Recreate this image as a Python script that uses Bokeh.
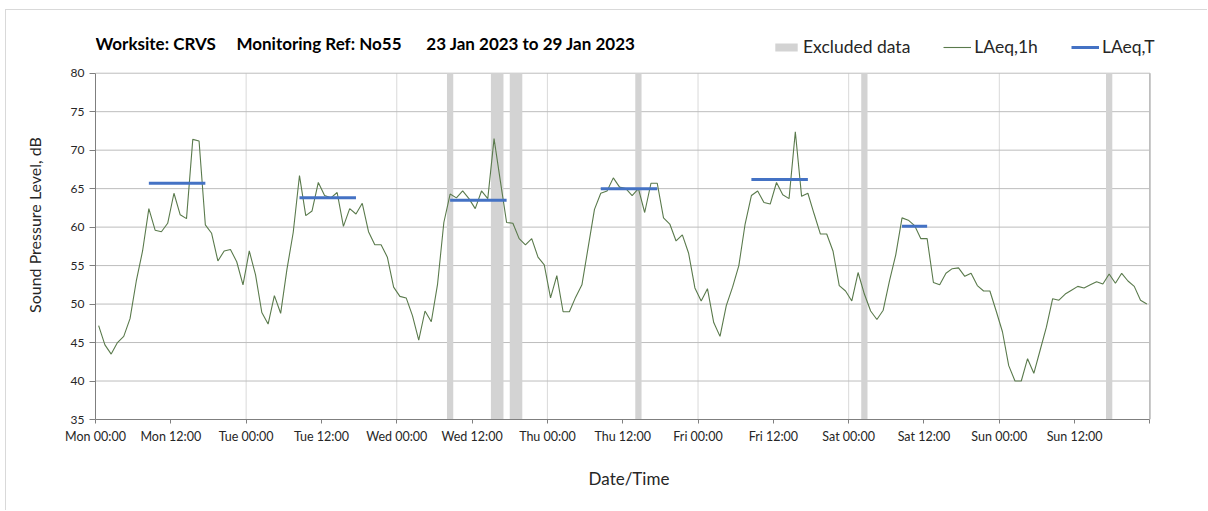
import pandas as pd
from bokeh.plotting import figure
from bokeh.models import (ColumnDataSource, FixedTicker, Legend, LegendItem,
                          DatetimeTickFormatter, Label)
from bokeh.embed import file_html
from bokeh.resources import INLINE

# ---------------- data ----------------
start = "2023-01-23 00:00"
end = "2023-01-30 00:00"
first_sample = "2023-01-23 00:30"

laeq_1h = [
    47.2, 44.7, 43.5, 45.0, 45.8, 48.1, 53.0, 56.9, 62.4, 59.6, 59.4, 60.5,
    64.4, 61.6, 61.1, 71.4, 71.2, 60.3, 59.2, 55.6, 56.9, 57.1, 55.5, 52.5,
    56.9, 53.8, 48.9, 47.4, 51.1, 48.8, 54.5, 59.3, 66.7, 61.5, 62.1, 65.8,
    64.1, 63.8, 64.5, 60.1, 62.4, 61.7, 63.1, 59.4, 57.7, 57.7, 56.1, 52.2,
    51.0, 50.8, 48.5, 45.3, 49.1, 47.7, 52.6, 60.6, 64.3, 63.8, 64.7, 63.7,
    62.4, 64.7, 63.7, 71.5, 66.0, 60.6, 60.5, 58.5, 57.7, 58.5, 56.1, 55.1,
    50.8, 53.7, 49.0, 49.0, 50.9, 52.5, 57.4, 62.3, 64.4, 64.7, 66.4, 65.2,
    65.0, 64.1, 65.0, 61.9, 65.7, 65.7, 61.2, 60.4, 58.2, 59.0, 56.6, 52.1,
    50.4, 52.0, 47.6, 45.8, 49.8, 52.2, 55.0, 60.4, 64.1, 64.7, 63.2, 63.0,
    65.8, 64.2, 63.7, 72.4, 64.0, 64.4, 61.7, 59.1, 59.1, 56.9, 52.4, 51.7,
    50.4, 54.1, 51.3, 49.1, 48.0, 49.2, 53.0, 56.4, 61.2, 60.9, 60.2, 58.5,
    58.5, 52.8, 52.5, 54.0, 54.6, 54.7, 53.6, 54.0, 52.4, 51.7, 51.7, 49.1,
    46.4, 42.0, 40.0, 40.0, 42.9, 41.0, 44.0, 47.0, 50.7, 50.5, 51.3, 51.8,
    52.3, 52.1, 52.5, 52.9, 52.6, 53.9, 52.7, 54.0, 53.0, 52.3, 50.5, 50.0,
]

excluded_start = ["2023-01-25 08:00", "2023-01-25 15:00", "2023-01-25 18:00",
                  "2023-01-26 14:00", "2023-01-28 02:00", "2023-01-29 17:00"]
excluded_end = ["2023-01-25 09:00", "2023-01-25 17:00", "2023-01-25 20:00",
                "2023-01-26 15:00", "2023-01-28 03:00", "2023-01-29 18:00"]

laeq_t_start = ["2023-01-23 08:30", "2023-01-24 08:30", "2023-01-25 08:30",
                "2023-01-26 08:30", "2023-01-27 08:30", "2023-01-28 08:30"]
laeq_t_end = ["2023-01-23 17:30", "2023-01-24 17:30", "2023-01-25 17:30",
              "2023-01-26 17:30", "2023-01-27 17:30", "2023-01-28 12:30"]
laeq_t = [65.7, 63.8, 63.5, 65.0, 66.2, 60.1]

tick_labels = ["Mon 00:00", "Mon 12:00", "Tue 00:00", "Tue 12:00",
               "Wed 00:00", "Wed 12:00", "Thu 00:00", "Thu 12:00",
               "Fri 00:00", "Fri 12:00", "Sat 00:00", "Sat 12:00",
               "Sun 00:00", "Sun 12:00"]
y_ticks = [35, 40, 45, 50, 55, 60, 65, 70, 75, 80]

title_parts = ["Worksite: CRVS", "Monitoring Ref: No55", "23 Jan 2023 to 29 Jan 2023"]

# ---------------- build ----------------
FONT = "Lato"
TXT = "#262626"
HEADROOM = 5.55                    # y-range space above 80 for title/legend row
RIGHT_PAD = pd.Timedelta(hours=2)  # x-range space right of the plot for legend text

times = pd.date_range(first_sample, periods=len(laeq_1h), freq="h")
src_line = ColumnDataSource(dict(t=times, v=laeq_1h))
src_exc = ColumnDataSource(dict(l=pd.to_datetime(excluded_start),
                                r=pd.to_datetime(excluded_end),
                                b=[y_ticks[0]] * len(excluded_start),
                                tp=[y_ticks[-1]] * len(excluded_start)))
src_t = ColumnDataSource(dict(x0=pd.to_datetime(laeq_t_start),
                              x1=pd.to_datetime(laeq_t_end), y=laeq_t))

t0 = pd.Timestamp(start)
t1 = pd.Timestamp(end)
ybounds = (y_ticks[0], y_ticks[-1])

p = figure(width=1202, height=501, x_axis_type="datetime",
           x_range=(t0, t1 + RIGHT_PAD), y_range=(y_ticks[0], y_ticks[-1] + HEADROOM),
           output_backend="svg", toolbar_location=None,
           min_border_left=89, min_border_right=46,
           min_border_top=20, min_border_bottom=92)
p.styles = {"border-top": "1px solid #d9d9d9", "border-left": "1px solid #d9d9d9",
            "margin-left": "5px", "margin-top": "9px"}
p.outline_line_color = None
p.xgrid.grid_line_color = None
p.ygrid.grid_line_color = None

# grid lines limited to the plotting box (Mon 00:00 .. Mon 00:00, 35..80 dB)
days = pd.date_range(start, end, freq="24h")
inner_days = days[1:-1]
p.segment(x0=inner_days, x1=inner_days, y0=[ybounds[0]] * len(inner_days),
          y1=[ybounds[1]] * len(inner_days), line_color="#d9d9d9", line_width=1,
          level="underlay")
p.segment(x0=days[-1:], x1=days[-1:], y0=[ybounds[0]], y1=[ybounds[1]],
          line_color="#8c8c8c", line_width=1, level="underlay")
grid_y = y_ticks[1:]
p.segment(x0=[t0] * len(grid_y), x1=[t1] * len(grid_y), y0=grid_y, y1=grid_y,
          line_color="#bdbdbd", line_width=1, level="underlay")

r_exc = p.quad(left="l", right="r", bottom="b", top="tp", source=src_exc,
               fill_color="#d3d3d3", line_color=None)
r_line = p.line("t", "v", source=src_line, line_color="#5a7a4c", line_width=1.1)
r_t = p.segment(x0="x0", y0="y", x1="x1", y1="y", source=src_t,
                line_color="#4472c4", line_width=3)

# axes
half_days = pd.date_range(start, end, freq="12h")
to_ms = lambda s: [ts.value / 1e6 for ts in s]
xt = to_ms(half_days)
xa = p.xaxis[0]
xa.ticker = FixedTicker(ticks=xt)
xa.bounds = (t0, t1)
xa.major_label_overrides = {xt[i]: tick_labels[i] for i in range(len(tick_labels))}
xa.major_label_overrides[xt[-1]] = ""
xa.formatter = DatetimeTickFormatter()
xa.major_tick_out = 4
xa.major_tick_in = 0
xa.minor_tick_line_color = None
xa.axis_line_color = "#7f7f7f"
xa.major_tick_line_color = "#7f7f7f"
xa.major_label_text_font = FONT
xa.major_label_text_font_size = "12.5px"
xa.major_label_text_color = TXT
xa.major_label_standoff = 5
xa.axis_label = "Date/Time"
xa.axis_label_text_font = FONT
xa.axis_label_text_font_style = "normal"
xa.axis_label_text_font_size = "17px"
xa.axis_label_text_color = TXT
xa.axis_label_standoff = 21

ya = p.yaxis[0]
ya.ticker = FixedTicker(ticks=y_ticks)
ya.bounds = ybounds
ya.major_tick_out = 6
ya.major_tick_in = 0
ya.minor_tick_line_color = None
ya.axis_line_color = "#7f7f7f"
ya.major_tick_line_color = "#7f7f7f"
ya.major_label_text_font = FONT
ya.major_label_text_font_size = "12px"
ya.major_label_text_color = TXT
ya.major_label_standoff = 5
ya.axis_label = "Sound Pressure Level, dB"
ya.axis_label_text_font = FONT
ya.axis_label_text_font_style = "normal"
ya.axis_label_text_font_size = "16px"
ya.axis_label_text_color = TXT
ya.axis_label_standoff = 24

# title row (inside the head-room of the frame)
sep1 = "\u00a0" * 5
sep2 = "\u00a0" * 6
p.title.text = ""
title = Label(x=0, y=376, x_units="screen", y_units="screen",
              text=title_parts[0] + sep1 + title_parts[1] + sep2 + title_parts[2],
              text_font=FONT, text_font_size="17px", text_font_style="bold",
              text_color="#000000", text_baseline="middle", text_align="left")
p.add_layout(title)

legend = Legend(items=[LegendItem(label="Excluded data", renderers=[r_exc]),
                       LegendItem(label="LAeq,1h", renderers=[r_line]),
                       LegendItem(label="LAeq,T", renderers=[r_t])],
                location=(677, 362), orientation="horizontal",
                glyph_width=28, glyph_height=10, label_standoff=3, spacing=33,
                padding=0, margin=0, border_line_color=None,
                background_fill_alpha=0,
                label_text_font=FONT, label_text_font_size="17.5px",
                label_text_color=TXT)
p.add_layout(legend, "center")

open("out.html", "w").write(file_html(p, INLINE))
